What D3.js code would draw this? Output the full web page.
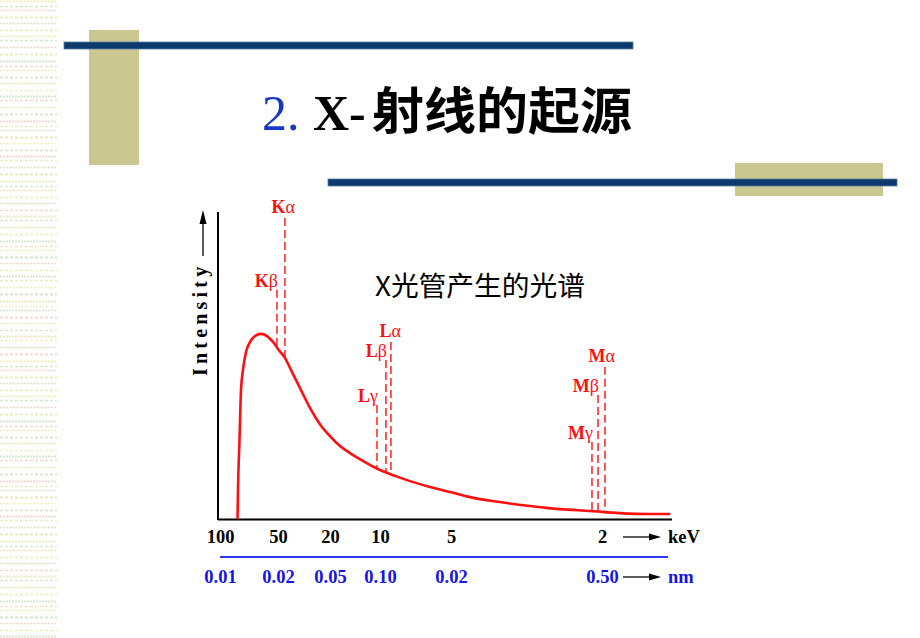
<!DOCTYPE html>
<html><head><meta charset="utf-8">
<script src="https://cdn.jsdelivr.net/npm/d3@7/dist/d3.min.js"></script>
<style>
html,body{margin:0;padding:0;background:#fff;}
svg{display:block;}
</style></head>
<body>
<svg id="c" width="920" height="638"></svg>
<script>
// ---------- data ----------
const titleNumber = "2.";
const titleLatin = "X-";
const titleCJK = "射线的起源";
const subtitle = "X光管产生的光谱";
const yLabel = "Intensity";

const keVTicks = [100, 50, 20, 10, 5, 2];
const keVLabels = ["100", "50", "20", "10", "5", "2"];
const nmLabels = ["0.01", "0.02", "0.05", "0.10", "0.02", "0.50"];
const keVUnit = "keV";
const nmUnit = "nm";

// continuous spectrum (energy in keV, relative intensity)
const spectrumKeV = [84.9, 84.5, 83.2, 81.9, 80.2, 77.6, 74.1, 69.8, 64.7, 59.5, 54.3, 50.0, 46.0, 41.9, 37.3, 31.5, 25.8, 20.0, 18.0, 16.0, 13.0, 10.0, 8.94, 7.89, 6.48, 5.07, 4.62, 4.03, 3.43, 2.83, 2.24, 1.90, 1.73, 1.61];
const spectrumIntensity = [0, 9.4, 25.6, 41.9, 48.4, 54.2, 57.5, 59.4, 60.1, 59.4, 57.5, 55.2, 52.3, 47.7, 42.5, 36.0, 30.8, 26.9, 23.7, 21.4, 18.5, 15.9, 14.0, 12.3, 10.4, 8.8, 7.1, 5.5, 4.2, 3.2, 2.6, 1.9, 1.6, 1.6];

// characteristic lines
const lineLetters = ["K", "K", "L", "L", "L", "M", "M", "M"];
const lineGreek = ["α", "β", "α", "β", "γ", "α", "β", "γ"];
const lineKeV = [46.0, 50.9, 9.23, 9.58, 10.6, 1.983, 2.079, 2.199];
const lineTop = [97.7, 74.4, 57.5, 51.6, 37.0, 49.4, 40.3, 25.0];

// ---------- drawing ----------
const svg = d3.select("#c");

// left decorative stripes
const stripeColors = ["#f3f0c4", "#d6e6cc", "#f4d8d2", "#ecedc6", "#dbe8d0", "#f0e6c0"];
const stripeG = svg.append("g");
const stripeOffsets = [0, 5, 9, 16, 22, 29, 35, 39, 46, 53];
for (let base = 0, k = 0; base < 640; base += 60, k++) {
  stripeOffsets.forEach((o, i) => {
    const yy = base + o + 1.5;
    if (yy > 638) return;
    stripeG.append("line")
      .attr("x1", 0).attr("x2", 57)
      .attr("y1", yy).attr("y2", yy)
      .attr("stroke", stripeColors[(i + k) % stripeColors.length])
      .attr("stroke-width", (i % 3 === 0) ? 2 : 1.4)
      .attr("stroke-dasharray", (i % 2 === 0) ? "2,1" : "3,2");
  });
}

// olive blocks
svg.append("rect").attr("x", 89).attr("y", 30).attr("width", 50).attr("height", 135).attr("fill", "#cac791");
svg.append("rect").attr("x", 735).attr("y", 163).attr("width", 148).attr("height", 33).attr("fill", "#cac791");
// navy bars
svg.append("rect").attr("x", 64).attr("y", 42).attr("width", 569).attr("height", 7)
  .attr("fill", "#0c3a6e").attr("stroke", "#5a7a9c").attr("stroke-width", 0.8);
svg.append("rect").attr("x", 328).attr("y", 179).attr("width", 569).attr("height", 7)
  .attr("fill", "#0c3a6e").attr("stroke", "#5a7a9c").attr("stroke-width", 0.8);

// title
svg.append("text").attr("x", 262).attr("y", 130)
  .attr("font-family", "Liberation Serif, serif").attr("font-size", 50)
  .attr("fill", "#1a36c4").text(titleNumber);
svg.append("text").attr("x", 313).attr("y", 130)
  .attr("font-family", "Liberation Serif, serif").attr("font-weight", "bold").attr("font-size", 50)
  .attr("fill", "#000").text(titleLatin);
svg.append("text").attr("x", 372).attr("y", 129)
  .attr("font-family", "Noto Sans CJK SC, sans-serif").attr("font-weight", 700).attr("font-size", 50)
  .attr("textLength", 260).attr("lengthAdjust", "spacingAndGlyphs")
  .attr("fill", "#000").text(titleCJK);

// scales
const x = d3.scaleLinear()
  .domain([101.7, 100, 50, 20, 10, 5, 2, 1.6])
  .range([218, 220, 278, 330, 380, 451, 602, 672]);
const y = d3.scaleLinear().domain([0, 100]).range([519, 211]);

const red = "#ff1010";

// axes lines
svg.append("line").attr("x1", 218).attr("x2", 218).attr("y1", y(99.7)).attr("y2", y(0) + 1)
  .attr("stroke", "#000").attr("stroke-width", 2);
svg.append("line").attr("x1", x(101.7)).attr("x2", x(1.6)).attr("y1", y(0) + 0.5).attr("y2", y(0) + 0.5)
  .attr("stroke", "#000").attr("stroke-width", 2);

// keV axis (labels)
const keVAxis = d3.axisBottom(x).tickValues(keVTicks).tickSize(0).tickPadding(0)
  .tickFormat((d, i) => keVLabels[i]);
const gk = svg.append("g").attr("transform", "translate(0,530)").call(keVAxis);
gk.select(".domain").remove();
gk.selectAll("text").attr("font-family", "Liberation Serif, serif").attr("font-weight", "bold")
  .attr("font-size", 18.5).attr("fill", "#000").attr("dy", "0.72em");

// nm axis (labels)
const nmAxis = d3.axisBottom(x).tickValues(keVTicks).tickSize(0).tickPadding(0)
  .tickFormat((d, i) => nmLabels[i]);
const gn = svg.append("g").attr("transform", "translate(0,570)").call(nmAxis);
gn.select(".domain").remove();
gn.selectAll("text").attr("font-family", "Liberation Serif, serif").attr("font-weight", "bold")
  .attr("font-size", 18.5).attr("fill", "#1414e6").attr("dy", "0.72em");

// blue separator
svg.append("line").attr("x1", 220).attr("x2", 668).attr("y1", 557).attr("y2", 557)
  .attr("stroke", "#2a3cf0").attr("stroke-width", 2);

// unit arrows
function arrowH(x1, x2, yy) {
  svg.append("line").attr("x1", x1).attr("x2", x2 - 9).attr("y1", yy).attr("y2", yy)
    .attr("stroke", "#000").attr("stroke-width", 1.3);
  svg.append("path").attr("d", `M${x2},${yy} L${x2 - 12},${yy - 3.5} L${x2 - 12},${yy + 3.5} Z`).attr("fill", "#000");
}
arrowH(623, 661, 537);
arrowH(623, 661, 577);
svg.append("text").attr("x", 668).attr("y", 543).attr("font-family", "Liberation Serif, serif")
  .attr("font-weight", "bold").attr("font-size", 18.5).attr("fill", "#000").text(keVUnit);
svg.append("text").attr("x", 668).attr("y", 583).attr("font-family", "Liberation Serif, serif")
  .attr("font-weight", "bold").attr("font-size", 18.5).attr("fill", "#1414e6").text(nmUnit);

// y label + arrow
svg.append("text").attr("transform", "translate(207,376) rotate(-90)")
  .attr("font-family", "Liberation Serif, serif").attr("font-weight", "bold").attr("font-size", 20)
  .attr("letter-spacing", 4.2).attr("fill", "#000").text(yLabel);
svg.append("line").attr("x1", 203).attr("x2", 203).attr("y1", 256).attr("y2", 222)
  .attr("stroke", "#000").attr("stroke-width", 1.3);
svg.append("path").attr("d", "M203,210 L199.5,224 L206.5,224 Z").attr("fill", "#000");

// subtitle
svg.append("text").attr("x", 375).attr("y", 296)
  .attr("font-family", "Noto Sans CJK SC, sans-serif").attr("font-size", 27)
  .attr("textLength", 210).attr("lengthAdjust", "spacingAndGlyphs")
  .attr("fill", "#000").text(subtitle);

// spectrum curve
const pts = spectrumKeV.map((e, i) => [x(e), y(spectrumIntensity[i])]);
svg.append("path").attr("d", d3.line().curve(d3.curveMonotoneX)(pts))
  .attr("fill", "none").attr("stroke", red).attr("stroke-width", 2.6);

// base of characteristic line on the curve
function curveYAt(px) {
  for (let i = 0; i < pts.length - 1; i++) {
    const [xa, ya] = pts[i], [xb, yb] = pts[i + 1];
    if (px >= xa && px <= xb) return ya + (yb - ya) * (px - xa) / (xb - xa);
  }
  return pts[pts.length - 1][1];
}

lineKeV.forEach((e, i) => {
  const px = x(e);
  const top = y(lineTop[i]);
  svg.append("line").attr("x1", px).attr("x2", px).attr("y1", top).attr("y2", curveYAt(px))
    .attr("stroke", red).attr("stroke-width", 1.4).attr("stroke-dasharray", "8,4");
  const isAlpha = lineGreek[i] === "α";
  const t = svg.append("text").attr("x", px + (isAlpha ? 10 : 1)).attr("y", top - (isAlpha ? 5 : 3))
    .attr("text-anchor", "end").attr("fill", red)
    .attr("font-family", "Liberation Serif, serif");
  t.append("tspan").attr("font-weight", "bold").attr("font-size", 18).text(lineLetters[i]);
  t.append("tspan").attr("font-weight", "normal").attr("font-size", 18).text(lineGreek[i]);
});
</script>
</body></html>
